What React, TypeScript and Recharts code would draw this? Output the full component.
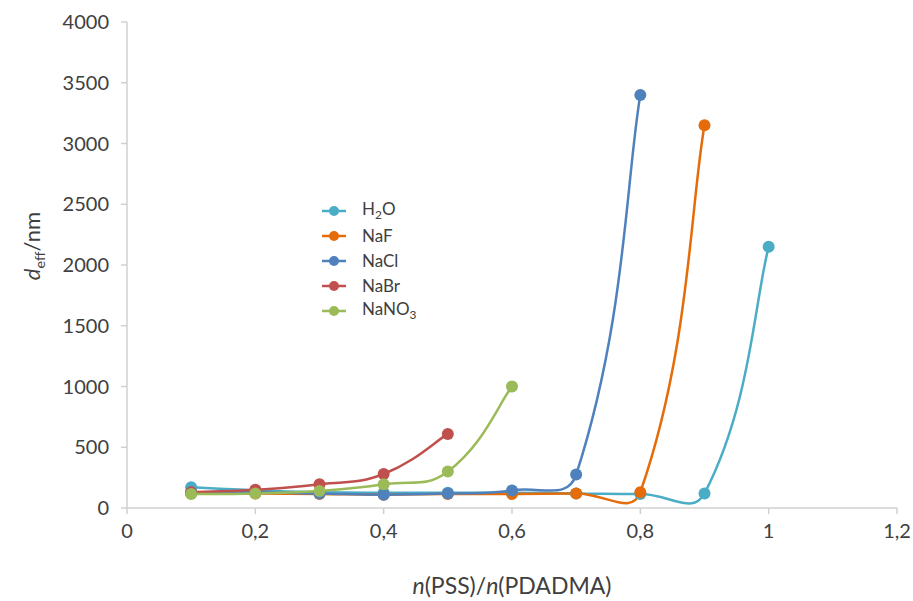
import React from "react";
import { LineChart, Line, XAxis, YAxis } from "recharts";

const h2oX = [0.1, 0.2, 0.3, 0.4, 0.5, 0.6, 0.7, 0.8, 0.9, 1.0];
const h2oY = [170, 145, 130, 125, 125, 125, 120, 115, 120, 2150];

const nafX = [0.1, 0.2, 0.3, 0.4, 0.5, 0.6, 0.7, 0.8, 0.9];
const nafY = [120, 120, 115, 110, 115, 115, 120, 130, 3150];

const naclX = [0.1, 0.2, 0.3, 0.4, 0.5, 0.6, 0.7, 0.8];
const naclY = [130, 130, 120, 110, 120, 145, 275, 3400];

const nabrX = [0.1, 0.2, 0.3, 0.4, 0.5];
const nabrY = [130, 150, 195, 280, 610];

const nano3X = [0.1, 0.2, 0.3, 0.4, 0.5, 0.6];
const nano3Y = [115, 120, 140, 195, 300, 1000];

const xTicks = [0, 0.2, 0.4, 0.6, 0.8, 1.0, 1.2];
const yTicks = [0, 500, 1000, 1500, 2000, 2500, 3000, 3500, 4000];

const toPoints = (xs: number[], ys: number[]) => xs.map((x, i) => ({ x, y: ys[i] }));

const series = [
  { name: "H2O", label: <>H<sub style={{ fontSize: "0.7em" }}>2</sub>O</>, color: "#4bacc6", data: toPoints(h2oX, h2oY) },
  { name: "NaF", label: <>NaF</>, color: "#e46c0a", data: toPoints(nafX, nafY) },
  { name: "NaCl", label: <>NaCl</>, color: "#4f81bd", data: toPoints(naclX, naclY) },
  { name: "NaBr", label: <>NaBr</>, color: "#c0504d", data: toPoints(nabrX, nabrY) },
  { name: "NaNO3", label: <>NaNO<sub style={{ fontSize: "0.7em" }}>3</sub></>, color: "#9bbb59", data: toPoints(nano3X, nano3Y) },
];

// Excel-like smoothed line (chord weighted Catmull-Rom bezier)
const excelSmooth = (context: any) => {
  let pts: number[][] = [];
  return {
    areaStart() {},
    areaEnd() {},
    lineStart() {
      pts = [];
    },
    point(x: number, y: number) {
      pts.push([+x, +y]);
    },
    lineEnd() {
      if (!pts.length) return;
      const n = pts.length;
      const dist = (a: number[], b: number[]) => Math.hypot(b[0] - a[0], b[1] - a[1]);
      const k = 0.45;
      context.moveTo(pts[0][0], pts[0][1]);
      for (let i = 0; i < n - 1; i++) {
        const p0 = pts[i - 1] || pts[i];
        const p1 = pts[i];
        const p2 = pts[i + 1];
        const p3 = pts[i + 2] || p2;
        const d01 = dist(p0, p1);
        const d12 = dist(p1, p2);
        const d23 = dist(p2, p3);
        const f1 = d01 + d12 > 0 ? (k * d12) / (d01 + d12) : 0;
        const f2 = d12 + d23 > 0 ? (k * d12) / (d12 + d23) : 0;
        const c1 = [p1[0] + (p2[0] - p0[0]) * f1 * (p0 === p1 ? 0.5 : 1), p1[1] + (p2[1] - p0[1]) * f1 * (p0 === p1 ? 0.5 : 1)];
        const c2 = [p2[0] - (p3[0] - p1[0]) * f2 * (p3 === p2 ? 0.5 : 1), p2[1] - (p3[1] - p1[1]) * f2 * (p3 === p2 ? 0.5 : 1)];
        context.bezierCurveTo(c1[0], c1[1], c2[0], c2[1], p2[0], p2[1]);
      }
    },
  };
};

const fmtX = (v: number) => String(v).replace(".", ",");

const tickStyle = { fill: "#404040", fontSize: 20, fontFamily: "Lato, sans-serif" };

export default function App() {
  return (
    <div style={{ position: "relative", width: 913, height: 601, background: "#fff" }}>
      <style>{`html, body { margin: 0; padding: 0; overflow: hidden; } #root { width: 913px; height: 601px; }`}</style>
      <div style={{ position: "absolute", left: 8, top: 8, width: 905, height: 593 }}>
        <LineChart width={905} height={593} margin={{ top: 14, right: 16, left: 0, bottom: 0 }}>
          <XAxis
            type="number"
            dataKey="x"
            domain={[0, 1.2]}
            ticks={xTicks}
            tickFormatter={fmtX}
            height={93}
            stroke="#d0d0d0"
            strokeWidth={1.5}
            tickSize={6}
            tickMargin={10}
            tick={tickStyle}
            allowDuplicatedCategory={false}
          />
          <YAxis
            type="number"
            domain={[0, 4000]}
            ticks={yTicks}
            width={119}
            stroke="#d0d0d0"
            strokeWidth={1.5}
            tickSize={6}
            tickMargin={12}
            tick={tickStyle}
          />
          {series.map((s) => (
            <Line
              key={s.name}
              name={s.name}
              data={s.data}
              dataKey="y"
              type={excelSmooth as any}
              stroke={s.color}
              strokeWidth={2.5}
              dot={{ r: 6, fill: s.color, stroke: s.color, strokeWidth: 0 }}
              activeDot={false}
              isAnimationActive={false}
            />
          ))}
        </LineChart>
        <div
          style={{
            position: "absolute",
            left: 312,
            top: 190,
            fontFamily: "Lato, sans-serif",
            fontSize: 17,
            color: "#404040",
          }}
        >
          {series.map((s) => (
            <div key={s.name} style={{ display: "flex", alignItems: "center", height: 25 }}>
              <svg width={30} height={14} style={{ marginRight: 12 }}>
                <line x1={2} y1={7} x2={26} y2={7} stroke={s.color} strokeWidth={2.5} />
                <circle cx={14} cy={7} r={5} fill={s.color} />
              </svg>
              <span>{s.label}</span>
            </div>
          ))}
        </div>
        <div
          style={{
            position: "absolute",
            left: 25,
            top: 238,
            transform: "translate(-50%, -50%) rotate(-90deg)",
            fontFamily: "Lato, sans-serif",
            fontSize: 22,
            color: "#404040",
            whiteSpace: "nowrap",
          }}
        >
          <i>d</i>
          <sub style={{ fontSize: "0.65em" }}>eff</sub>/nm
        </div>
        <div
          style={{
            position: "absolute",
            left: 504,
            top: 577,
            transform: "translate(-50%, -50%)",
            fontFamily: "Lato, sans-serif",
            fontSize: 23,
            color: "#404040",
            whiteSpace: "nowrap",
          }}
        >
          <i>n</i>(PSS)/<i>n</i>(PDADMA)
        </div>
      </div>
    </div>
  );
}
